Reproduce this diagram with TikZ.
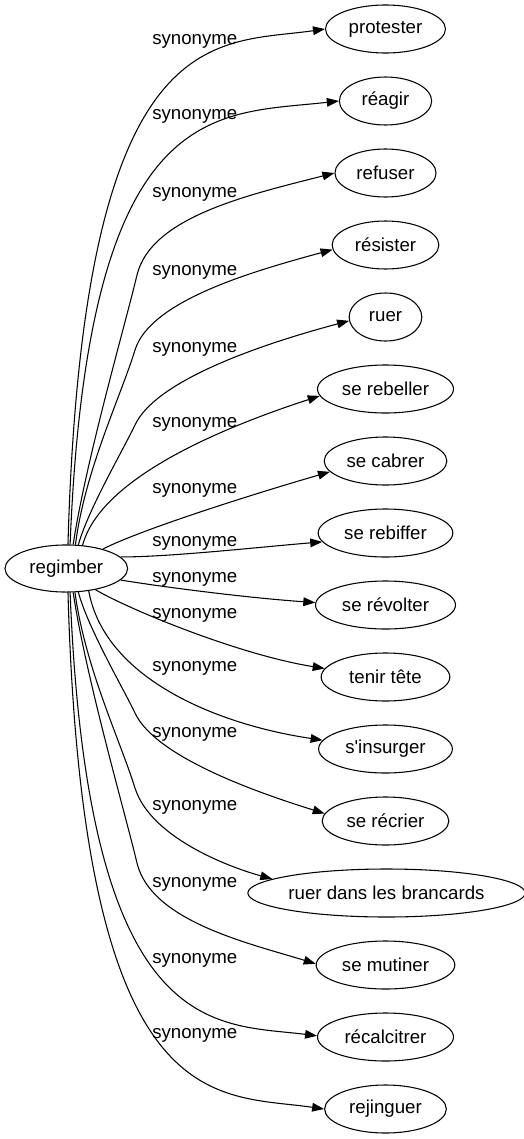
\documentclass[tikz,border=0pt]{standalone}
\usepackage{fontspec}
\setmainfont{Liberation Sans}
\usetikzlibrary{shapes.geometric,arrows.meta}
\begin{document}
\begin{tikzpicture}[x=0.75pt,y=-0.75pt,
  every node/.style={font=\fontsize{14pt}{16pt}\selectfont},
  word/.style={draw, ellipse, inner sep=0pt, minimum height=36pt, line width=0.8pt},
  lbl/.style={anchor=base west, inner sep=0pt},
  link/.style={line width=0.8pt, -{Triangle[length=9pt,width=6.5pt]}}]
\useasboundingbox (0,0) rectangle (524,1139);
% nodes
\node[word, minimum width=92pt, minimum height=35.3pt] (regimber) at (66.3,568.5) {regimber};
\node[word, minimum width=90pt]   (protester)   at (385.5,29)   {protester};
\node[word, minimum width=69.2pt] (reagir)      at (385.5,101)  {réagir};
\node[word, minimum width=75.8pt] (refuser)     at (385.5,173)  {refuser};
\node[word, minimum width=80pt]   (resister)    at (385.5,245)  {résister};
\node[word, minimum width=54.5pt] (ruer)        at (385.5,317)  {ruer};
\node[word, minimum width=102pt]  (rebeller)    at (385.5,389)  {se rebeller};
\node[word, minimum width=92pt]   (cabrer)      at (385.5,461)  {se cabrer};
\node[word, minimum width=101pt]  (rebiffer)    at (385.5,533)  {se rebiffer};
\node[word, minimum width=105pt]  (revolter)    at (385.5,605)  {se révolter};
\node[word, minimum width=96.5pt] (tenir)       at (385.5,677)  {tenir tête};
\node[word, minimum width=100.3pt](insurger)    at (385.5,749)  {s\textquotesingle insurger};
\node[word, minimum width=95pt]   (recrier)     at (385.5,821)  {se récrier};
\node[word, minimum width=201pt]  (brancards)   at (386.5,893)  {ruer dans les brancards};
\node[word, minimum width=104pt]  (mutiner)     at (385.5,965)  {se mutiner};
\node[word, minimum width=102pt]  (recalcitrer) at (385.5,1037) {récalcitrer};
\node[word, minimum width=91.3pt] (rejinguer)   at (385.5,1109) {rejinguer};
% labels
\node[lbl] (l1)  at (152,44)     {synonyme};
\node[lbl] (l2)  at (152,119.5)  {synonyme};
\node[lbl] (l3)  at (152,197)    {synonyme};
\node[lbl] (l4)  at (152,275)    {synonyme};
\node[lbl] (l5)  at (152,352.5)  {synonyme};
\node[lbl] (l6)  at (152,427)    {synonyme};
\node[lbl] (l7)  at (152,493.5)  {synonyme};
\node[lbl] (l8)  at (152,546)    {synonyme};
\node[lbl] (l9)  at (152,582.5)  {synonyme};
\node[lbl] (l10) at (152,618)    {synonyme};
\node[lbl] (l11) at (152,671.5)  {synonyme};
\node[lbl] (l12) at (152,737.5)  {synonyme};
\node[lbl] (l13) at (152,810.5)  {synonyme};
\node[lbl] (l14) at (152,887)    {synonyme};
\node[lbl] (l15) at (152,963.5)  {synonyme};
\node[lbl] (l16) at (152,1038.5) {synonyme};
% edges
\draw[link] (regimber.86) .. controls (83,15) and (215,45) .. (protester.180);
\draw[link] (regimber.81) .. controls (88,95) and (215,115) .. (reagir.180);
\draw[link] (regimber.74) .. controls (86,460) and (125.5,323.6) .. (137,275)
            .. controls (151,217) and (248,195) .. (refuser.180);
\draw[link] (regimber.69.5) .. controls (85,470) and (120.3,397.8) .. (135,350)
            .. controls (150,302) and (246,273) .. (resister.185.5);
\draw[link] (regimber.63) .. controls (88,510) and (122,452) .. (135,425)
            .. controls (156,380) and (262,344) .. (ruer.186.7);
\draw[link] (regimber.55) .. controls (100,480) and (215,430) .. (rebeller.186.8);
\draw[link] (regimber.28) .. controls (140,530) and (250,495) .. (cabrer.191);
\draw[link] (regimber.12) .. controls (170,557) and (260,547) .. (rebiffer.188);
\draw[link] (regimber.348) .. controls (170,588) and (250,598) .. (revolter.178);
\draw[link] (regimber.324) .. controls (130,610) and (240,655) .. (tenir.172);
\draw[link] (regimber.315) .. controls (105,680) and (220,725) .. (insurger.172);
\draw[link] (regimber.297) .. controls (88,628) and (122,686) .. (135,713)
            .. controls (156,758) and (262,794) .. (recrier.173);
\draw[link] (regimber.290) .. controls (85,667) and (120,740) .. (135,788)
            .. controls (150,836) and (225,866) .. (brancards.173.4);
\draw[link] (regimber.286) .. controls (86,678) and (125.5,814.4) .. (137,863)
            .. controls (151,921) and (248,943) .. (mutiner.179);
\draw[link] (regimber.279) .. controls (88,1043) and (215,1023) .. (recalcitrer.179);
\draw[link] (regimber.274) .. controls (83,1123) and (215,1093) .. (rejinguer.180);
\end{tikzpicture}
\end{document}
